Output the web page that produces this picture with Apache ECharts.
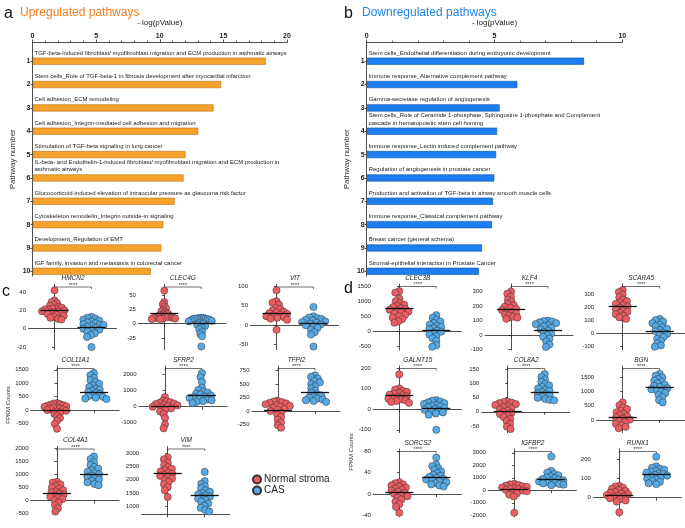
<!DOCTYPE html>
<html><head><meta charset="utf-8">
<script src="https://cdn.jsdelivr.net/npm/echarts@6/dist/echarts.min.js"></script>
<style>html,body{margin:0;padding:0;background:#fff}#c{width:685px;height:528px}</style>
</head><body><div id="c"></div>
<script>
// ---------------- DATA ----------------
const upPathways = [
  'TGF-beta-induced fibroblast/ myofibroblast migration and ECM production in asthmatic airways',
  'Stem cells_Role of TGF-beta-1 in fibrosis development after myocardial infarction',
  'Cell adhesion_ECM remodeling',
  'Cell adhesion_Integrin-mediated cell adhesion and migration',
  'Stimulation of TGF-beta signaling in lung cancer',
  'IL-beta- and Endothelin-1-induced fibroblast/ myofibroblast migration and ECM production in\nasthmatic airways',
  'Glucocorticoid-induced elevation of intraocular pressure as glaucoma risk factor',
  'Cytoskeleton remodelin_Integrin outside-in signaling',
  'Development_Regulation of EMT',
  'IGF family, invasion and metastasis in colorectal cancer'
];
const upLogP = [18.3, 14.8, 14.2, 13.0, 12.0, 11.85, 11.15, 10.26, 10.1, 9.27];
const upTicks = [0, 5, 10, 15, 20];

const downPathways = [
  'Stem cells_Endothelial differentiation during embryonic development',
  'Immune response_Alternative complement pathway',
  'Gamma-secretase regulation of angiogenesis',
  'Stem cells_Role of Ceramide 1-phosphate, Sphingosine 1-phosphate and Complement\ncascade in hematopoietic stem cell homing',
  'Immune response_Lectin induced complement pathway',
  'Regulation of angiogenesis in prostate cancer',
  'Production and activation of TGF-beta in airway smooth muscle cells',
  'Immune response_Classical complement pathway',
  'Breast cancer (general schema)',
  'Stromal-epithelial interaction in Prostate Cancer'
];
const downLogP = [8.49, 5.88, 5.19, 5.09, 5.05, 4.98, 4.93, 4.89, 4.5, 4.38];
const downTicks = [0, 5, 10];
const pathwayNumbers = [1, 2, 3, 4, 5, 6, 7, 8, 9, 10];

const genesC = ['HMCN2', 'CLEC4G', 'VIT', 'COL11A1', 'SFRP2', 'TFPI2', 'COL4A1', 'VIM'];
const genesD = ['CLEC3B', 'KLF4', 'SCARA5', 'GALNT15', 'COL8A2', 'BGN', 'SORCS2', 'IGFBP2', 'RUNX1'];

const HMCN2_normal = [42, 31, 29, 28, 26, 25, 24, 23, 22, 22, 21, 21, 20, 19, 19, 18, 17, 17, 16, 15, 14, 13, 12, 11, 10];
const HMCN2_cas = [13, 12, 11, 10, 9, 8, 7, 6, 5, 4, 4, 3, 2, 1, 0, -1, -2, -3, -5, -7, -9, -20];
const CLEC4G_normal = [58, 38, 34, 30, 27, 24, 22, 20, 18, 17, 16, 15, 14, 13, 12, 12, 11, 11, 10, 10, 10, 9, 9, 8, 8];
const CLEC4G_cas = [10, 10, 10, 9, 9, 9, 8, 8, 7, 6, 5, 4, 2, 1, 0, -2, -4, -7, -10, -14, -18, -22, -40];
const VIT_normal = [90, 62, 58, 53, 45, 42, 38, 35, 33, 31, 29, 27, 25, 23, 21, 19, 17, 14, -12];
const VIT_cas = [47, 23, 20, 18, 16, 14, 12, 10, 8, 6, 4, 2, 0, -3, -7, -12, -18, -24, -55];
const COL11A1_normal = [260, 240, 220, 200, 180, 160, 140, 120, 100, 80, 60, 40, 20, 0, -30, -60, -100, -150, -220, -300, -400, -520, -700];
const COL11A1_cas = [1380, 1300, 1200, 1120, 1050, 980, 920, 860, 800, 760, 720, 680, 640, 600, 560, 520, 490, 460, 430, 410];
const SFRP2_normal = [600, 380, 330, 280, 240, 200, 160, 120, 80, 40, 0, -40, -100, -200, -300, -450, -700, -1100, -1350];
const SFRP2_cas = [2100, 1850, 1550, 1200, 1050, 950, 880, 820, 760, 700, 650, 600, 550, 500, 450, 400, 350, 300, 220];
const TFPI2_normal = [185, 175, 165, 150, 140, 125, 110, 95, 80, 60, 40, 20, 0, -30, -70, -110, -160, -210, -260, -310];
const TFPI2_cas = [660, 630, 600, 560, 530, 500, 460, 420, 380, 340, 310, 290, 270, 250, 230, 215, 200, 185, 170];
const COL4A1_normal = [720, 690, 620, 560, 500, 450, 400, 350, 310, 270, 230, 190, 150, 100, 50, 0, -80, -180, -300, -430];
const COL4A1_cas = [1700, 1600, 1480, 1380, 1300, 1230, 1170, 1110, 1060, 1010, 960, 910, 860, 810, 760, 700, 640, 590];
const VIM_normal = [2850, 2780, 2650, 2560, 2480, 2420, 2370, 2320, 2270, 2230, 2190, 2150, 2100, 2050, 1990, 1920, 1830, 1720, 1600, 1350];
const VIM_cas = [2300, 1950, 1850, 1760, 1680, 1600, 1550, 1500, 1450, 1410, 1370, 1330, 1280, 1230, 1170, 1100, 1020, 940, 860, 800];
const CLEC3B_normal = [1350, 1300, 1100, 1020, 960, 900, 860, 820, 790, 760, 730, 700, 670, 640, 600, 560, 520, 470, 420, 350, 300];
const CLEC3B_cas = [550, 470, 400, 340, 290, 240, 200, 160, 120, 80, 40, 0, -40, -90, -150, -220, -300, -450, -500];
const KLF4_normal = [300, 285, 265, 245, 230, 215, 205, 195, 188, 180, 172, 165, 158, 150, 142, 135, 127, 120, 112];
const KLF4_cas = [100, 97, 93, 88, 82, 75, 68, 60, 50, 40, 30, 20, 10, 0, -12, -25, -45, -65, -82];
const SCARA5_normal = [330, 315, 295, 275, 258, 245, 235, 225, 215, 205, 195, 185, 175, 165, 155, 145, 135, 122, 110];
const SCARA5_cas = [110, 100, 90, 78, 66, 55, 45, 35, 25, 15, 5, -5, -15, -28, -42, -58, -75, -92, -102];
const GALNT15_normal = [170, 102, 96, 90, 85, 80, 76, 72, 68, 64, 60, 56, 52, 48, 44, 40, 36, 32];
const GALNT15_cas = [45, 42, 38, 34, 30, 26, 22, 18, 14, 10, 6, 2, -2, -6, -10, -15, -20, -26, -100];
const COL8A2_normal = [36, 34, 32, 30, 27, 24, 20, 16, 12, 8, 4, 0, -4, -8, -13, -18, -25, -33, -42, -52, -60];
const COL8A2_cas = [132, 122, 113, 105, 98, 92, 87, 82, 77, 73, 69, 65, 61, 57, 53, 49, 45, 42, 40];
const BGN_normal = [620, 520, 440, 380, 320, 270, 220, 170, 130, 90, 50, 10, -30, -80, -130, -180, -240, -290];
const BGN_cas = [1620, 1560, 1500, 1440, 1390, 1340, 1290, 1240, 1200, 1160, 1120, 1080, 1040, 1000, 950, 880, 800, 700, 620];
const SORCS2_normal = [22, 20, 18, 16, 14, 12, 10, 8, 6, 4, 2, 0, -2, -4, -7, -10, -14, -19, -24, -35];
const SORCS2_cas = [68, 55, 52, 48, 45, 42, 39, 36, 34, 32, 30, 28, 27, 26, 24, 22, 20, 18, 16, 14];
const IGFBP2_normal = [520, 470, 420, 370, 320, 270, 220, 170, 120, 70, 20, -30, -80, -150, -250, -350, -500, -1800];
const IGFBP2_cas = [2700, 1550, 1420, 1300, 1200, 1100, 1020, 960, 900, 850, 800, 750, 700, 650, 600, 550, 500, 450, 400];
const RUNX1_normal = [62, 58, 52, 46, 40, 35, 30, 26, 22, 18, 14, 10, 6, 2, -3, -8, -14, -20, -75];
const RUNX1_cas = [212, 162, 156, 150, 145, 140, 135, 130, 126, 122, 118, 114, 110, 105, 100, 94, 88, 82, 75, 70];

// group means (horizontal lines): [Normal stroma, CAS]
const meansC = [[20, 2], [18, 1], [30, 6], [0, 680], [50, 700], [10, 340], [260, 1030], [2230, 1400]];
const meansD = [[770, 60], [180, 35], [210, 15], [70, 5], [3, 67], [100, 1160], [3, 31], [100, 870], [15, 122]];

// y tick labels per panel
const ticksC = [[-20, 0, 20, 40], [-25, 0, 25, 50], [-50, 0, 50, 100], [-500, 0, 500, 1000, 1500],
  [-1000, 0, 1000, 2000], [-250, 0, 250, 500, 750], [-500, 0, 500, 1000, 1500, 2000], [1000, 1500, 2000, 2500, 3000]];
const ticksD = [[-500, 0, 500, 1000, 1500], [-100, 0, 100, 200, 300], [-100, 0, 100, 200, 300],
  [-100, 0, 100, 200], [-50, 0, 50, 100, 150], [0, 500, 1000, 1500], [-40, 0, 40, 80],
  [-2000, -1000, 0, 1000, 2000, 3000], [0, 100, 200]];
const groupNames = ['Normal stroma', 'CAS'];
const significance = '****';

const dataByGene = {
  HMCN2: [HMCN2_normal, HMCN2_cas], CLEC4G: [CLEC4G_normal, CLEC4G_cas], VIT: [VIT_normal, VIT_cas],
  COL11A1: [COL11A1_normal, COL11A1_cas], SFRP2: [SFRP2_normal, SFRP2_cas], TFPI2: [TFPI2_normal, TFPI2_cas],
  COL4A1: [COL4A1_normal, COL4A1_cas], VIM: [VIM_normal, VIM_cas], CLEC3B: [CLEC3B_normal, CLEC3B_cas],
  KLF4: [KLF4_normal, KLF4_cas], SCARA5: [SCARA5_normal, SCARA5_cas], GALNT15: [GALNT15_normal, GALNT15_cas],
  COL8A2: [COL8A2_normal, COL8A2_cas], BGN: [BGN_normal, BGN_cas], SORCS2: [SORCS2_normal, SORCS2_cas],
  IGFBP2: [IGFBP2_normal, IGFBP2_cas], RUNX1: [RUNX1_normal, RUNX1_cas]
};

// ---------------- LAYOUT / STYLE ----------------
const FONT = '"Liberation Sans", Arial, Helvetica, sans-serif';
const INK = '#222';
const RED = '#EE5D62', BLUE = '#55AAE6';
const PW = 88, XMIN = -0.703, XMAX = 1.676;
// [x0, top, bottom, yMin, yMax]
const layoutC = [
  [28.5, 284.5, 349.5, -22.7, 48.3], [138.3, 284.5, 349.5, -45.3, 68.7], [250.5, 284.5, 349.5, -62.7, 105],
  [31, 366, 431, -784, 1642], [139, 366, 431, -1519, 2544], [252, 366, 431, -370, 833],
  [31, 446.5, 514.3, -534, 2084], [141.7, 446.5, 514.3, 692, 3263]
];
const layoutD = [
  [373.3, 284, 350, -610, 1590], [485, 284, 350, -103, 352], [596.7, 284, 350, -127, 376],
  [373.3, 366, 432.7, -114, 211], [481.7, 366, 432.7, -73, 160], [596.7, 366, 432.7, -447, 1900],
  [373.3, 449, 516.5, -42, 84], [488.3, 449, 516.5, -2100, 3300], [593.3, 449, 516.5, -97, 252]
];
const SWARM_D = 4.3, SWARM_MAX = 12.5;

// beeswarm horizontal offsets (pixels) computed from values
function swarm(values, pxPerY, D, maxW) {
  const order = values.map((v, i) => i).sort((a, b) => values[b] - values[a]);
  const placed = [], off = new Array(values.length).fill(0);
  for (const i of order) {
    const y = values[i] * pxPerY;
    const iv = [];
    for (const p of placed) {
      const dy = Math.abs(p.y - y);
      if (dy < D) { const w = Math.sqrt(D * D - dy * dy); iv.push([p.x - w, p.x + w]); }
    }
    const cands = [0];
    iv.forEach(([a, b]) => cands.push(a, b));
    cands.sort((a, b) => Math.abs(a) - Math.abs(b));
    let x = 0;
    for (const c of cands) {
      if (!iv.some(([a, b]) => c > a + 1e-6 && c < b - 1e-6)) { x = c; break; }
    }
    placed.push({ x, y }); off[i] = x;
  }
  const mx = Math.max(1e-6, ...off.map(Math.abs));
  const s = mx > maxW ? maxW / mx : 1;
  return off.map(o => o * s);
}

const grids = [], xAxes = [], yAxes = [], series = [];
const axLine = { show: true, lineStyle: { color: INK, width: 0.8 } };
const plain = v => String(v);

function barPanel(left, width, values, labels, ticks, fill, stroke) {
  const gi = grids.length;
  grids.push({ left: left, top: 42.5, width: width, height: 233.5, outerBoundsMode: 'none' });
  xAxes.push({
    gridIndex: gi, type: 'value', position: 'top', min: ticks[0], max: ticks[ticks.length - 1], interval: 5,
    axisLine: axLine, axisTick: { show: true, length: 3, lineStyle: { color: INK, width: 0.8 } },
    minorTick: { show: true, splitNumber: 5, length: 2, lineStyle: { color: INK, width: 0.7 } },
    splitLine: { show: false }, minorSplitLine: { show: false },
    axisLabel: { fontSize: 7, fontWeight: 'bold', color: INK, fontFamily: FONT, margin: 3, formatter: plain },
    name: '- log(pValue)', nameLocation: 'middle', nameGap: 16,
    nameTextStyle: { fontSize: 8, color: INK, fontFamily: FONT }
  });
  yAxes.push({
    gridIndex: gi, type: 'value', inverse: true, min: 0.2, max: 10.2,
    axisLine: axLine, splitLine: { show: false },
    axisTick: { show: true, length: 2, customValues: pathwayNumbers, lineStyle: { color: INK, width: 0.8 } },
    axisLabel: { customValues: pathwayNumbers, fontSize: 7, fontWeight: 'bold', color: INK, fontFamily: FONT, margin: 2, formatter: plain },
    name: 'Pathway number', nameLocation: 'middle', nameGap: 16, nameRotate: 90,
    nameTextStyle: { fontSize: 8, color: '#333', fontFamily: FONT }
  });
  series.push({
    type: 'custom', xAxisIndex: gi, yAxisIndex: gi, clip: false, animation: false,
    data: values.map((v, i) => [v, pathwayNumbers[i]]),
    renderItem(params, api) {
      const v = api.value(0), n = api.value(1);
      const a = api.coord([0, n]), b = api.coord([v, n]);
      const h = 6.5;
      return {
        type: 'group', children: [
          { type: 'rect', shape: { x: a[0] + 0.6, y: a[1] - h / 2, width: b[0] - a[0] - 0.6, height: h },
            style: { fill: fill, stroke: stroke, lineWidth: 0.6 } },
          { type: 'text', style: { x: a[0] + 2, y: a[1] - h / 2 - 1.2, text: labels[n - 1], fontSize: 6,
              fontFamily: FONT, fill: '#222', align: 'left', verticalAlign: 'bottom', lineHeight: 7.4 } }
        ]
      };
    }
  });
}

barPanel(32.5, 254.5, upLogP, upPathways, upTicks, '#F7A22C', '#B5741C');
barPanel(366.7, 255.6, downLogP, downPathways, downTicks, '#1C7EF0', '#0F4FA0');

const panels = [];
genesC.forEach((g, i) => panels.push({ gene: g, lay: layoutC[i], ticks: ticksC[i], means: meansC[i] }));
genesD.forEach((g, i) => panels.push({ gene: g, lay: layoutD[i], ticks: ticksD[i], means: meansD[i] }));

panels.forEach(p => {
  const [x0, top, bottom, yMin, yMax] = p.lay;
  const gi = grids.length;
  p.gi = gi;
  const H = bottom - top;
  grids.push({ left: x0, top: top, width: PW, height: H, outerBoundsMode: 'none' });
  xAxes.push({
    gridIndex: gi, type: 'value', min: XMIN, max: XMAX, axisLine: axLine,
    axisTick: { show: true, length: 3, customValues: [0, 1], lineStyle: { color: INK, width: 0.8 } },
    axisLabel: { show: false }, splitLine: { show: false }
  });
  yAxes.push({
    gridIndex: gi, type: 'value', min: yMin, max: yMax, axisLine: axLine, splitLine: { show: false },
    axisTick: { show: true, length: 2.5, customValues: p.ticks, lineStyle: { color: INK, width: 0.8 } },
    axisLabel: { customValues: p.ticks, fontSize: 6, color: INK, fontFamily: FONT, margin: 2.5, formatter: plain }
  });
  const pxPerY = H / (yMax - yMin);
  const pxPerX = PW / (XMAX - XMIN);
  [0, 1].forEach(k => {
    const vals = dataByGene[p.gene][k];
    const off = swarm(vals, pxPerY, SWARM_D, SWARM_MAX);
    const m = p.means[k];
    series.push({
      type: 'scatter', name: groupNames[k], xAxisIndex: gi, yAxisIndex: gi, animation: false,
      symbol: 'circle', symbolSize: 7.2,
      itemStyle: { color: k === 0 ? RED : BLUE, borderColor: '#333', borderWidth: 0.5, opacity: 1 },
      data: vals.map((v, i) => [k + off[i] / pxPerX, v]),
      markLine: {
        silent: true, symbol: ['none', 'none'], animation: false, label: { show: false },
        lineStyle: { color: '#111', width: 1.3, type: 'solid' },
        data: [[{ coord: [k - 0.38, m] }, { coord: [k + 0.38, m] }]]
      }
    });
  });
});

const graphic = [
  { type: 'text', left: 4, top: 6, style: { text: 'a', fontSize: 16, fill: '#111', fontFamily: FONT } },
  { type: 'text', left: 20, top: 7, style: { text: 'Upregulated pathways', fontSize: 12, fill: '#F07F1E', fontFamily: FONT } },
  { type: 'text', left: 344, top: 6, style: { text: 'b', fontSize: 16, fill: '#111', fontFamily: FONT } },
  { type: 'text', left: 362, top: 7, style: { text: 'Downregulated pathways', fontSize: 12, fill: '#2384E6', fontFamily: FONT } },
  { type: 'text', left: 2, top: 284, style: { text: 'c', fontSize: 16, fill: '#111', fontFamily: FONT } },
  { type: 'text', left: 344, top: 281, style: { text: 'd', fontSize: 16, fill: '#111', fontFamily: FONT } },
  { type: 'text', x: 8, y: 405, rotation: Math.PI / 2,
    style: { text: 'FPKM Counts', fontSize: 6, fill: '#333', fontFamily: FONT, align: 'center', verticalAlign: 'middle' } },
  { type: 'text', x: 351, y: 452, rotation: Math.PI / 2,
    style: { text: 'FPKM Counts', fontSize: 6, fill: '#333', fontFamily: FONT, align: 'center', verticalAlign: 'middle' } }
];

const chart = echarts.init(document.getElementById('c'), null, { renderer: 'canvas', width: 685, height: 528 });
chart.setOption({
  backgroundColor: '#fff', animation: false,
  textStyle: { fontFamily: FONT },
  legend: {
    data: groupNames, orient: 'vertical', left: 247, top: 469, itemWidth: 8, itemHeight: 8, itemGap: 0,
    icon: 'circle', textStyle: { fontSize: 10, color: '#222', fontFamily: FONT, lineHeight: 11, padding: [0, 0, 0, -2] }
  },
  grid: grids, xAxis: xAxes, yAxis: yAxes, series: series, graphic: graphic
});

// titles, brackets and significance stars, positioned from the axes
const extra = [];
panels.forEach(p => {
  const yMax = p.lay[4];
  const a = chart.convertToPixel({ xAxisIndex: p.gi, yAxisIndex: p.gi }, [0, yMax]);
  const b = chart.convertToPixel({ xAxisIndex: p.gi, yAxisIndex: p.gi }, [1, yMax]);
  const yb = a[1] + 2.5;
  extra.push({ type: 'polyline', silent: true, shape: { points: [[a[0], yb + 2], [a[0], yb], [b[0], yb], [b[0], yb + 2]] },
    style: { stroke: '#333', lineWidth: 0.7, fill: null } });
  extra.push({ type: 'text', x: (a[0] + b[0]) / 2, y: yb - 2, silent: true,
    style: { text: significance, fontSize: 5.5, fill: '#333', fontFamily: FONT, align: 'center', verticalAlign: 'middle' } });
  extra.push({ type: 'text', x: (a[0] + b[0]) / 2, y: a[1] - 6, silent: true,
    style: { text: p.gene, fontSize: 6.5, fontStyle: 'italic', fill: '#222', fontFamily: FONT, align: 'center', verticalAlign: 'middle' } });
});
chart.setOption({ graphic: graphic.concat(extra) });
</script>
</body></html>
